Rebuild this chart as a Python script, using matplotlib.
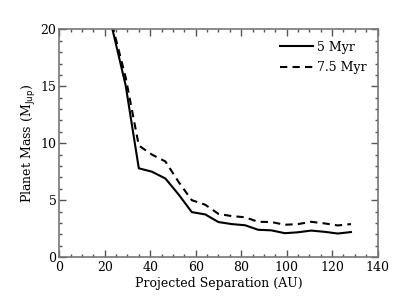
import matplotlib
matplotlib.use("Agg")
import matplotlib.pyplot as plt
from matplotlib.ticker import MultipleLocator

# projected separation grid (AU)
sep = [23.3, 29.2, 35.0, 40.8, 46.7, 52.5, 58.3, 64.2, 70.0, 75.8,
       81.7, 87.5, 93.3, 99.2, 105.0, 110.8, 116.7, 122.5, 128.3]
# mass limits (M_Jup)
mass_5myr = [20.1, 15.1, 7.8, 7.5, 6.9, 5.5, 3.95, 3.75, 3.08, 2.9,
             2.8, 2.4, 2.35, 2.1, 2.18, 2.33, 2.22, 2.07, 2.2]
mass_7myr = [20.4, 15.8, 9.8, 9.0, 8.4, 6.6, 5.0, 4.6, 3.8, 3.6,
             3.5, 3.1, 3.08, 2.84, 2.9, 3.1, 2.96, 2.78, 2.9]

plt.rcParams['font.family'] = 'DejaVu Serif'
plt.rcParams['font.size'] = 9

fig = plt.figure(figsize=(4.2, 3.0), dpi=100)
ax = fig.add_axes([0.141, 0.143, 0.758, 0.759])

ax.plot(sep, mass_5myr, color='black', lw=1.5, label='5 Myr')
ax.plot(sep, mass_7myr, color='black', lw=1.5, ls=(0, (3.5, 2.5)), label='7.5 Myr')

ax.set_xlim(0, 140)
ax.set_ylim(0, 20)
ax.xaxis.set_major_locator(MultipleLocator(20))
ax.xaxis.set_minor_locator(MultipleLocator(5))
ax.yaxis.set_major_locator(MultipleLocator(5))
ax.yaxis.set_minor_locator(MultipleLocator(1))
ax.tick_params(which='both', direction='in', top=True, right=True, color='#555555')
ax.tick_params(which='major', length=5, width=1)
ax.tick_params(which='minor', length=2.5, width=1)
ax.tick_params(axis='x', pad=3)
ax.tick_params(axis='y', pad=2)
for s in ax.spines.values():
    s.set_color('#777777')
    s.set_linewidth(1.2)

ax.set_xlabel('Projected Separation (AU)', labelpad=2)
ax.set_ylabel(r'Planet Mass (M$_{\rm Jup}$)', labelpad=2)

ax.legend(loc='upper right', frameon=False, handlelength=2.6, handletextpad=0.3,
          fontsize=9, borderaxespad=0.5, labelspacing=0.6)

fig.savefig('out.png', dpi=100)
